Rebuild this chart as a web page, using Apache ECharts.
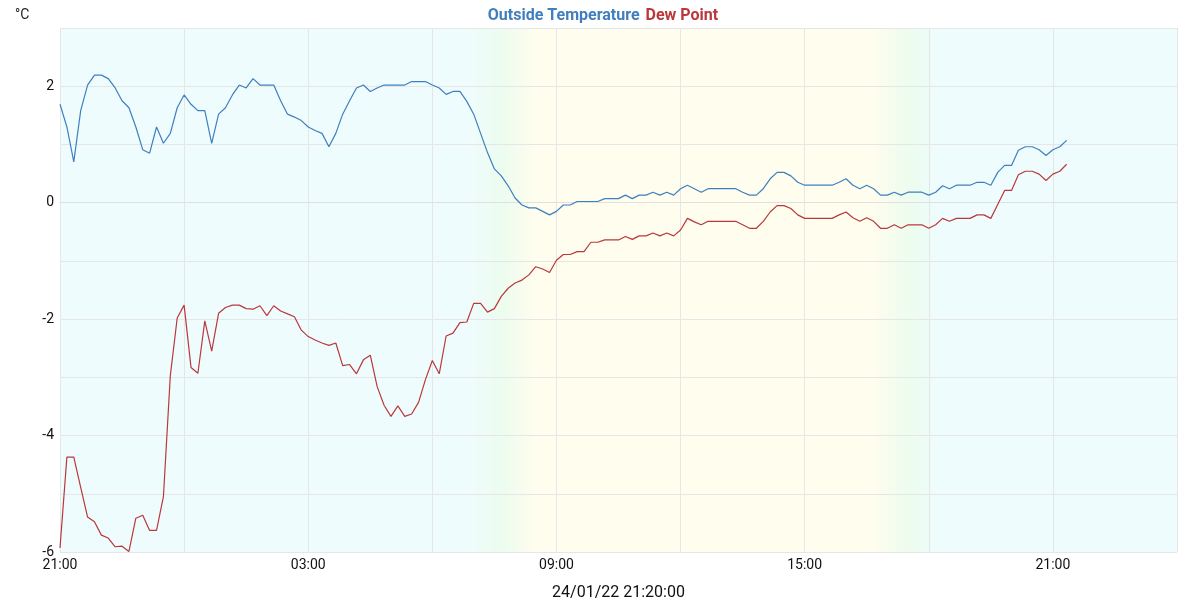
<!DOCTYPE html>
<html>
<head>
<meta charset="utf-8">
<script src="https://cdn.jsdelivr.net/npm/echarts@6/dist/echarts.min.js"></script>
<style>html,body{margin:0;padding:0;background:#fff}#chart{width:1200px;height:600px}</style>
</head>
<body>
<div id="chart"></div>
<script>
// 10-minute readings from 23/01/22 21:00 to 24/01/22 21:20
const startHour = 21;           // first reading at 21:00
const stepMinutes = 10;
const seriesNames = ['Outside Temperature', 'Dew Point'];
const outsideTemp = [
  1.69, 1.30, 0.70, 1.58, 2.02, 2.19,
  2.19, 2.13, 1.97, 1.75, 1.63, 1.30,
  0.91, 0.85, 1.30, 1.02, 1.19, 1.63,
  1.85, 1.69, 1.58, 1.58, 1.02, 1.52,
  1.63, 1.85, 2.02, 1.97, 2.13, 2.02,
  2.02, 2.02, 1.75, 1.52, 1.47, 1.41,
  1.30, 1.24, 1.19, 0.96, 1.19, 1.52,
  1.75, 1.97, 2.02, 1.91, 1.97, 2.02,
  2.02, 2.02, 2.02, 2.08, 2.08, 2.08,
  2.02, 1.97, 1.86, 1.91, 1.91, 1.74,
  1.52, 1.19, 0.86, 0.58, 0.46, 0.29,
  0.08, -0.04, -0.09, -0.09, -0.15, -0.21,
  -0.15, -0.04, -0.04, 0.02, 0.02, 0.02,
  0.02, 0.07, 0.07, 0.07, 0.13, 0.07,
  0.13, 0.13, 0.18, 0.13, 0.18, 0.13,
  0.24, 0.30, 0.24, 0.18, 0.24, 0.24,
  0.24, 0.24, 0.24, 0.18, 0.13, 0.13,
  0.24, 0.41, 0.52, 0.52, 0.46, 0.35,
  0.30, 0.30, 0.30, 0.30, 0.30, 0.35,
  0.41, 0.30, 0.24, 0.30, 0.24, 0.13,
  0.13, 0.18, 0.13, 0.18, 0.18, 0.18,
  0.13, 0.18, 0.29, 0.24, 0.30, 0.30,
  0.30, 0.35, 0.35, 0.30, 0.52, 0.64,
  0.64, 0.90, 0.96, 0.96, 0.91, 0.81,
  0.91, 0.96, 1.07
];
const dewPoint = [
  -5.93, -4.37, -4.37, -4.89, -5.40, -5.48,
  -5.71, -5.76, -5.91, -5.90, -5.99, -5.42,
  -5.37, -5.63, -5.63, -5.05, -2.97, -1.98,
  -1.76, -2.83, -2.93, -2.03, -2.55, -1.90,
  -1.80, -1.76, -1.76, -1.82, -1.83, -1.77,
  -1.94, -1.77, -1.86, -1.91, -1.96, -2.19,
  -2.30, -2.36, -2.41, -2.45, -2.41, -2.80,
  -2.78, -2.94, -2.70, -2.62, -3.16, -3.48,
  -3.67, -3.49, -3.67, -3.63, -3.43, -3.04,
  -2.71, -2.94, -2.29, -2.24, -2.06, -2.05,
  -1.73, -1.73, -1.88, -1.82, -1.61, -1.47,
  -1.38, -1.33, -1.24, -1.10, -1.14, -1.20,
  -0.99, -0.89, -0.89, -0.84, -0.84, -0.68,
  -0.68, -0.64, -0.64, -0.64, -0.58, -0.63,
  -0.57, -0.57, -0.52, -0.57, -0.52, -0.57,
  -0.47, -0.27, -0.33, -0.38, -0.32, -0.32,
  -0.32, -0.32, -0.32, -0.38, -0.44, -0.44,
  -0.32, -0.16, -0.05, -0.05, -0.10, -0.21,
  -0.27, -0.27, -0.27, -0.27, -0.27, -0.21,
  -0.16, -0.26, -0.32, -0.26, -0.32, -0.44,
  -0.44, -0.38, -0.44, -0.38, -0.38, -0.38,
  -0.44, -0.38, -0.27, -0.32, -0.27, -0.27,
  -0.27, -0.21, -0.21, -0.27, -0.03, 0.21,
  0.21, 0.48, 0.54, 0.54, 0.49, 0.38,
  0.49, 0.54, 0.66
];
const yTicks = [-6, -4, -2, 0, 2];
const xTickHours = [0, 6, 12, 18, 24];   // hours after start that carry a label
const dateLabel = '24/01/22 21:20:00';
const unitLabel = '°C';

const blue = '#3f7fbf';
const red = '#b9383c';
const cyan = '#effcfd';
const green = '#ecfcee';
const yellow = '#fefdee';

function pairs(values) {
  return values.map((v, i) => [i * stepMinutes / 60, v]);
}
function pad(n) { return (n < 10 ? '0' : '') + n; }

const chart = echarts.init(document.getElementById('chart'));
chart.setOption({
  animation: false,
  textStyle: { fontFamily: 'Roboto' },
  title: {
    text: unitLabel, left: 10, top: 3,
    textStyle: { fontSize: 14, fontWeight: 'normal', color: '#222', fontFamily: 'Roboto' }
  },
  legend: {
    top: 3, left: 'center', itemWidth: 0, itemHeight: 0, itemGap: 0,
    selectedMode: false,
    textStyle: { fontSize: 16, fontWeight: 'bold', fontFamily: 'Roboto' },
    data: [
      { name: seriesNames[0], textStyle: { color: blue } },
      { name: seriesNames[1], textStyle: { color: red } }
    ]
  },
  grid: {
    left: 60, right: 23, top: 28, bottom: 48, show: true, borderWidth: 0,
    outerBoundsMode: 'none', containLabel: false,
    backgroundColor: {
      type: 'linear', x: 0, y: 0, x2: 1, y2: 0,
      colorStops: [
        { offset: 0, color: cyan },
        { offset: 0.365, color: cyan },
        { offset: 0.397, color: green },
        { offset: 0.425, color: yellow },
        { offset: 0.728, color: yellow },
        { offset: 0.762, color: green },
        { offset: 0.785, color: cyan },
        { offset: 1, color: cyan }
      ]
    }
  },
  xAxis: {
    type: 'value', min: 0, max: 27, interval: 3,
    name: dateLabel, nameLocation: 'middle', nameGap: 33,
    nameTextStyle: { fontSize: 16, color: '#111', fontFamily: 'Roboto' },
    axisLine: { show: true, lineStyle: { color: '#e0e0e0' } },
    axisTick: { show: false },
    splitLine: { show: true, lineStyle: { color: '#e6e6e6' } },
    axisLabel: {
      fontSize: 14, color: '#111', margin: 6, showMaxLabel: true, showMinLabel: true,
      formatter: function (v) {
        return xTickHours.indexOf(v) >= 0 ? pad((startHour + v) % 24) + ':00' : '';
      }
    }
  },
  yAxis: {
    type: 'value', min: -6, max: 3, interval: 1,
    axisLine: { show: false },
    axisTick: { show: false },
    splitLine: { show: true, lineStyle: { color: '#e6e6e6' } },
    axisLabel: {
      fontSize: 14, color: '#111', margin: 6,
      formatter: function (v) { return yTicks.indexOf(v) >= 0 ? String(v) : ''; }
    }
  },
  series: [
    {
      name: seriesNames[0], type: 'line', data: pairs(outsideTemp),
      showSymbol: false, symbol: 'none', color: blue,
      lineStyle: { width: 1.2, color: blue }
    },
    {
      name: seriesNames[1], type: 'line', data: pairs(dewPoint),
      showSymbol: false, symbol: 'none', color: red,
      lineStyle: { width: 1.2, color: red }
    }
  ]
});
</script>
</body>
</html>
